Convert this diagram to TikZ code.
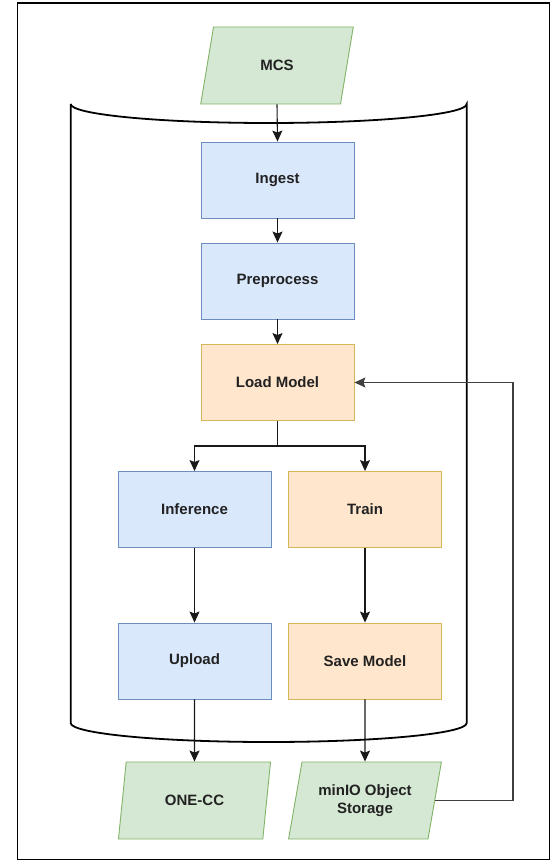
\documentclass[tikz,border=0pt]{standalone}
\usepackage{fontspec}
\setmainfont{Liberation Sans}
\usetikzlibrary{shapes.geometric,arrows.meta}
\definecolor{bluefill}{HTML}{DAE8FC}
\definecolor{bluestroke}{HTML}{6C8EBF}
\definecolor{orfill}{HTML}{FFE6CC}
\definecolor{orstroke}{HTML}{D6B656}
\definecolor{grfill}{HTML}{D5E8D4}
\definecolor{grstroke}{HTML}{82B366}
\definecolor{txt}{HTML}{222222}
\tikzset{
  boxbase/.style={rectangle, minimum width=153pt, minimum height=76pt, line width=0.9pt,
    font=\fontsize{15}{17.5}\selectfont\bfseries, text=txt, inner sep=0pt, align=center},
  bluebox/.style={boxbase, fill=bluefill, draw=bluestroke},
  orbox/.style={boxbase, fill=orfill, draw=orstroke},
  iobox/.style={trapezium, trapezium left angle=72.5, trapezium right angle=107.5,
    trapezium stretches=true, minimum width=153pt, minimum height=77pt, inner sep=0pt,
    fill=grfill, draw=grstroke, line width=0.9pt,
    font=\fontsize{15}{17.5}\selectfont\bfseries, text=txt, align=center},
  arr/.style={draw=black!90, line width=1.1pt, -{Stealth[length=11pt,width=10pt,inset=2pt]}},
  cyl/.style={draw=black, line width=1.8pt},
}
\begin{document}
\begin{tikzpicture}[x=1pt,y=-1pt]
\useasboundingbox (0,0) rectangle (551,861);
\draw[line width=1.3pt] (17.5,3) rectangle (549.5,859.5);
% cylinder container
\draw[cyl] (70.7,104) -- (70.7,723)
  .. controls (70.7,733.5) and (159.3,742) .. (268.7,742)
  .. controls (378.1,742) and (466.7,733.5) .. (466.7,723)
  -- (466.7,104)
  .. controls (466.7,114.5) and (378.1,123) .. (268.7,123)
  .. controls (159.3,123) and (70.7,114.5) .. (70.7,104);
% nodes
\node[iobox] (mcs) at (277,65.5) {MCS};
\node[bluebox] (ingest) at (277.5,180) {Ingest};
\node[bluebox] (pre) at (277.5,281) {Preprocess};
\node[orbox] (load) at (277.5,382.5) {Load Model};
\node[bluebox] (inf) at (194.5,509.5) {Inference};
\node[orbox] (train) at (365,509.5) {Train};
\node[bluebox] (upload) at (194.5,661) {Upload};
\node[orbox] (save) at (365,661) {Save Model};
\node[iobox] (onecc) at (194.5,800.5) {ONE-CC};
\node[iobox] (minio) at (365,800.5) {minIO Object\\Storage};
\coordinate (br) at (277.5,446);
\coordinate (fb) at (513,0);
% connectors
\draw[arr] (mcs.south) -- (ingest.north);
\draw[arr] (ingest) -- (pre);
\draw[arr] (pre) -- (load);
\draw[line width=1.1pt, draw=black!90] (load.south) -- (br);
\draw[arr] (br) -| (inf.north);
\draw[arr] (br) -| (train.north);
\draw[arr] (inf) -- (upload);
\draw[arr] (train) -- (save);
\draw[arr] (upload) -- (onecc);
\draw[arr] (save) -- (minio);
\draw[arr, draw=black!75] (minio.east) -- (minio.east -| fb) -- (fb |- load.east) -- (load.east);
\end{tikzpicture}
\end{document}
